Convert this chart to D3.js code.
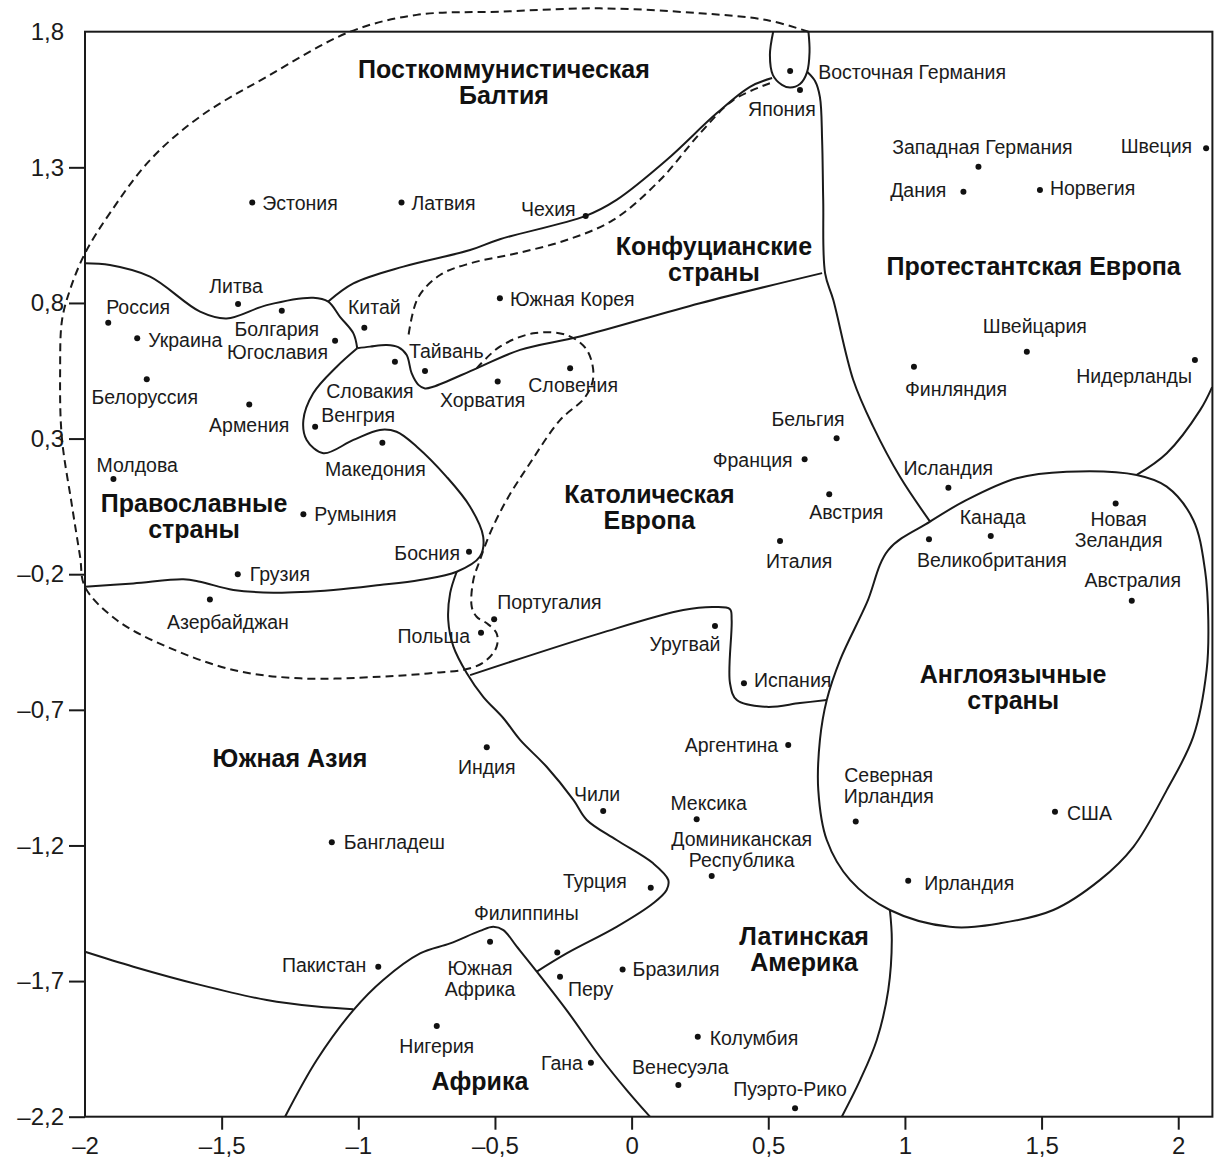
<!DOCTYPE html>
<html>
<head>
<meta charset="utf-8">
<title>Культурная карта мира</title>
<script src="https://d3js.org/d3.v7.min.js"></script>
<style>
  body { margin: 0; background: #fff; }
  svg { display: block; font-family: Arial, "Liberation Sans", Helvetica, sans-serif; }
  .frame { fill: none; stroke: #1a1a1a; stroke-width: 2; }
  .zone { fill: none; stroke: #1a1a1a; stroke-width: 2; }
  .zone.dashed { stroke-dasharray: 8 5; }
  .dot { fill: #111; }
  .country { font-size: 19.5px; fill: #1b1b1b; }
  .region { font-size: 25px; font-weight: bold; fill: #111; text-anchor: middle; }
  .axis text { font-size: 24px; fill: #1b1b1b; font-family: Arial, "Liberation Sans", sans-serif; }
  .axis path { display: none; }
  .axis line { stroke: #1a1a1a; stroke-width: 2; }
</style>
</head>
<body>
<svg id="chart"></svg>
<script>
// ---- data ----
const countries = [
  "Эстония", "Латвия", "Чехия", "Восточная Германия", "Япония",
  "Западная Германия", "Дания", "Норвегия", "Швеция", "Швейцария",
  "Финляндия", "Нидерланды", "Бельгия", "Франция", "Австрия",
  "Италия", "Исландия", "Канада", "Великобритания", "Новая Зеландия",
  "Австралия", "Россия", "Украина", "Литва", "Болгария",
  "Югославия", "Китай", "Белоруссия", "Армения", "Венгрия",
  "Словакия", "Тайвань", "Македония", "Молдова", "Румыния",
  "Грузия", "Азербайджан", "Хорватия", "Словения", "Южная Корея",
  "Босния", "Португалия", "Польша", "Уругвай", "Испания",
  "Аргентина", "Индия", "Чили", "Мексика", "Доминиканская Республика",
  "Турция", "Филиппины", "Южная Африка", "Перу", "Бразилия",
  "Нигерия", "Колумбия", "Гана", "Венесуэла", "Пуэрто-Рико",
  "Бангладеш", "Пакистан", "Северная Ирландия", "США", "Ирландия"
];
const survivalSelf = [
  -1.388, -0.842, -0.168, 0.580, 0.616,
  1.269, 1.214, 1.494, 2.102, 1.446,
  1.033, 2.061, 0.750, 0.633, 0.723,
  0.543, 1.159, 1.314, 1.088, 1.771,
  1.830, -1.915, -1.809, -1.440, -1.280,
  -1.085, -0.978, -1.774, -1.399, -1.158,
  -0.866, -0.756, -0.912, -1.896, -1.201,
  -1.441, -1.543, -0.490, -0.225, -0.482,
  -0.595, -0.503, -0.551, 0.305, 0.411,
  0.573, -0.530, -0.104, 0.238, 0.293,
  0.070, -0.272, -0.518, -0.262, -0.033,
  -0.713, 0.242, -0.149, 0.171, 0.598,
  -1.097, -0.927, 0.820, 1.549, 1.012
];
const tradSecular = [
  1.170, 1.170, 1.121, 1.655, 1.585,
  1.302, 1.210, 1.216, 1.370, 0.620,
  0.565, 0.590, 0.301, 0.224, 0.095,
  -0.078, 0.119, -0.059, -0.071, 0.061,
  -0.298, 0.727, 0.670, 0.796, 0.771,
  0.661, 0.709, 0.519, 0.426, 0.344,
  0.583, 0.549, 0.285, 0.151, 0.021,
  -0.200, -0.293, 0.510, 0.559, 0.817,
  -0.117, -0.366, -0.416, -0.391, -0.602,
  -0.830, -0.838, -1.073, -1.103, -1.313,
  -1.356, -1.595, -1.555, -1.684, -1.657,
  -1.866, -1.905, -2.001, -2.083, -2.169,
  -1.188, -1.647, -1.112, -1.076, -1.330
];

const xTicks = [-2, -1.5, -1, -0.5, 0, 0.5, 1, 1.5, 2];
const yTicks = [1.8, 1.3, 0.8, 0.3, -0.2, -0.7, -1.2, -1.7, -2.2];

// zone names and where they sit (data units, first baseline)
const zoneNames = [
  ["Посткоммунистическая", "Балтия"], ["Конфуцианские", "страны"],
  ["Протестантская Европа"], ["Православные", "страны"],
  ["Католическая", "Европа"], ["Англоязычные", "страны"],
  ["Южная Азия"], ["Латинская", "Америка"], ["Африка"]
];
const zoneX = [-0.467, 0.301, 1.471, -1.601, 0.065, 1.396, -1.250, 0.631, -0.555];
const zoneY = [1.629, 0.977, 0.903, 0.029, 0.062, -0.601, -0.911, -1.567, -2.102];

// zone borders, traced in data units
const orthodoxTop = [[-2, 0.946], [-1.909, 0.940], [-1.762, 0.897], [-1.579, 0.768], [-1.482, 0.743],
  [-1.335, 0.792], [-1.165, 0.819], [-1.110, 0.805], [-1.067, 0.749], [-1.018, 0.688], [-1.004, 0.633]];
const confucianLower = [[-1.004, 0.633], [-0.957, 0.639], [-0.896, 0.645], [-0.854, 0.637], [-0.823, 0.608],
  [-0.805, 0.541], [-0.780, 0.498], [-0.756, 0.485], [-0.726, 0.491], [-0.567, 0.559], [-0.408, 0.627],
  [-0.189, 0.676], [0.250, 0.799], [0.697, 0.910]];
const orthodoxEdge = [[-1.004, 0.633], [-1.079, 0.565], [-1.165, 0.467], [-1.201, 0.368], [-1.189, 0.295],
  [-1.128, 0.246], [-1.018, 0.295], [-0.921, 0.332], [-0.860, 0.325], [-0.786, 0.270], [-0.677, 0.159],
  [-0.591, 0.049], [-0.543, -0.062], [-0.555, -0.135], [-0.640, -0.191], [-0.774, -0.221], [-0.921, -0.240],
  [-1.091, -0.258], [-1.311, -0.268], [-1.457, -0.258], [-1.579, -0.228], [-1.640, -0.219], [-1.823, -0.234],
  [-2, -0.246]];
const southAsiaEdge = [[-0.640, -0.191], [-0.664, -0.270], [-0.671, -0.369], [-0.652, -0.467], [-0.603, -0.565],
  [-0.543, -0.652], [-0.469, -0.731], [-0.408, -0.811], [-0.311, -0.910], [-0.213, -1.032], [-0.164, -1.106],
  [-0.055, -1.180], [0.079, -1.266], [0.134, -1.327], [0.128, -1.364], [0.079, -1.413], [-0.055, -1.500],
  [-0.238, -1.598], [-0.347, -1.665]];
const latinTop = [[-0.591, -0.572], [-0.116, -0.418], [0.189, -0.332], [0.305, -0.321], [0.360, -0.329],
  [0.366, -0.369], [0.360, -0.602], [0.385, -0.664], [0.494, -0.689], [0.616, -0.675], [0.714, -0.664]];
const angloOutline = [[0.714, -0.664], [0.763, -0.516], [0.860, -0.307], [0.939, -0.111], [1.092, -0.006],
  [1.226, 0.074], [1.409, 0.154], [1.592, 0.178], [1.848, 0.166], [1.958, 0.123], [2.055, 0.000],
  [2.098, -0.185], [2.110, -0.369], [2.104, -0.553], [2.055, -0.799], [1.958, -0.996], [1.836, -1.205],
  [1.714, -1.327], [1.543, -1.438], [1.348, -1.487], [1.165, -1.500], [0.945, -1.438], [0.799, -1.327],
  [0.714, -1.180], [0.683, -0.996], [0.689, -0.811]];
const latinEast = [[0.945, -1.438], [0.952, -1.549], [0.939, -1.733], [0.897, -1.917], [0.836, -2.065], [0.769, -2.2]];
const protestantSouth = [[1.848, 0.166], [1.958, 0.246], [2.080, 0.405], [2.124, 0.490]];
const protestantWest = [[0.641, 1.653], [0.671, 1.618], [0.689, 1.559], [0.697, 1.401], [0.701, 1.180],
  [0.708, 0.909], [0.738, 0.811], [0.811, 0.516], [0.884, 0.344], [0.982, 0.159], [1.092, -0.006]];
const germanyOval = [[0.518, 1.8], [0.506, 1.714], [0.517, 1.640], [0.550, 1.604], [0.580, 1.594],
  [0.616, 1.607], [0.642, 1.651], [0.651, 1.725], [0.647, 1.8]];
const confucianUpper = [[-1.110, 0.805], [-1.018, 0.872], [-0.835, 0.934], [-0.591, 0.995], [-0.482, 1.035],
  [-0.168, 1.121], [-0.055, 1.180], [0.128, 1.327], [0.311, 1.499], [0.433, 1.597], [0.514, 1.629]];
const southAsiaAfrica = [[-2, -1.592], [-1.823, -1.647], [-1.579, -1.714], [-1.335, -1.770], [-1.152, -1.794], [-1.018, -1.804]];
const africaOutline = [[-1.268, -2.2], [-1.152, -1.991], [-1.018, -1.807], [-0.909, -1.696], [-0.774, -1.598],
  [-0.664, -1.561], [-0.555, -1.515], [-0.506, -1.500], [-0.469, -1.512], [-0.420, -1.573], [-0.347, -1.665],
  [-0.238, -1.807], [-0.116, -1.979], [-0.018, -2.102], [0.067, -2.2]];
const postCommunistDashed = [[-0.567, 0.559], [-0.482, 0.639], [-0.360, 0.688], [-0.238, 0.682], [-0.164, 0.627],
  [-0.140, 0.528], [-0.170, 0.453], [-0.262, 0.368], [-0.372, 0.209], [-0.457, 0.074], [-0.518, -0.049],
  [-0.555, -0.148], [-0.579, -0.221], [-0.585, -0.320], [-0.567, -0.357], [-0.530, -0.381], [-0.494, -0.418],
  [-0.494, -0.467], [-0.530, -0.516], [-0.591, -0.547], [-0.738, -0.565], [-0.921, -0.578], [-1.213, -0.584],
  [-1.457, -0.553], [-1.701, -0.467], [-1.884, -0.369], [-2, -0.247], [-2.018, -0.135], [-2.049, 0.061],
  [-2.085, 0.307], [-2.091, 0.553], [-2.084, 0.737], [-2.055, 0.848], [-2, 0.983], [-1.909, 1.131],
  [-1.762, 1.327], [-1.579, 1.487], [-1.335, 1.634], [-1.030, 1.8], [-0.786, 1.862], [-0.482, 1.874],
  [-0.116, 1.886], [0.250, 1.868], [0.494, 1.843], [0.647, 1.8]];
const confucianDashed = [[0.506, 1.610], [0.372, 1.548], [0.250, 1.425], [0.104, 1.253], [-0.067, 1.106],
  [-0.238, 1.032], [-0.420, 0.983], [-0.591, 0.946], [-0.701, 0.903], [-0.782, 0.818], [-0.817, 0.676]];

// label placement: anchor, dx, dy (pixels from the dot)
const labelLayout = {
  "Эстония": ["start", 10, 1], "Латвия": ["start", 10, 1], "Чехия": ["end", -10, -7],
  "Восточная Германия": ["start", 28, 1], "Япония": ["middle", -18, 19],
  "Западная Германия": ["middle", 4, -20], "Дания": ["end", -17, -2], "Норвегия": ["start", 10, -2],
  "Швеция": ["end", -14, -2], "Швейцария": ["middle", 8, -26], "Финляндия": ["start", -9, 22],
  "Нидерланды": ["end", -3, 16], "Бельгия": ["end", 8, -19], "Франция": ["end", -12, 1],
  "Австрия": ["start", -20, 18], "Италия": ["start", -14, 20], "Исландия": ["middle", 0, -19],
  "Канада": ["middle", 2, -19], "Великобритания": ["start", -12, 21], "Новая Зеландия": ["middle", 3, 16],
  "Австралия": ["middle", 1, -21], "Россия": ["start", -2, -16], "Украина": ["start", 11, 2],
  "Литва": ["middle", -2, -18], "Болгария": ["middle", -5, 18], "Югославия": ["end", -7, 12],
  "Китай": ["middle", 10, -20], "Белоруссия": ["middle", -2, 18], "Армения": ["middle", 0, 21],
  "Венгрия": ["start", 6, -11], "Словакия": ["middle", -25, 29], "Тайвань": ["start", -16, -20],
  "Македония": ["middle", -7, 27], "Молдова": ["start", -17, -14], "Румыния": ["start", 11, 0],
  "Грузия": ["start", 12, 0], "Азербайджан": ["middle", 18, 23], "Хорватия": ["middle", -15, 19],
  "Словения": ["middle", 3, 17], "Южная Корея": ["start", 10, 1], "Босния": ["end", -9, 1],
  "Португалия": ["start", 3, -17], "Польша": ["end", -11, 3], "Уругвай": ["middle", -30, 18],
  "Испания": ["start", 10, -3], "Аргентина": ["end", -10, 0], "Индия": ["middle", 0, 20],
  "Чили": ["middle", -6, -17], "Мексика": ["middle", 12, -16],
  "Доминиканская Республика": ["middle", 30, -37], "Турция": ["end", -24, -7],
  "Филиппины": ["middle", -31, -39], "Южная Африка": ["middle", -10, 26], "Перу": ["start", 8, 12],
  "Бразилия": ["start", 10, 0], "Нигерия": ["middle", 0, 20], "Колумбия": ["start", 12, 1],
  "Гана": ["end", -8, 0], "Венесуэла": ["middle", 2, -18], "Пуэрто-Рико": ["middle", -5, -19],
  "Бангладеш": ["start", 12, 0], "Пакистан": ["end", -12, -2],
  "Северная Ирландия": ["middle", 33, -46], "США": ["start", 12, 1], "Ирландия": ["start", 16, 2]
};
const twoLineNames = ["Новая Зеландия", "Южная Африка", "Доминиканская Республика", "Северная Ирландия"];

// ---- drawing ----
const width = 1215, height = 1160;
const svg = d3.select("#chart").attr("width", width).attr("height", height);

const x = d3.scaleLinear().domain([-2, 2.125]).range([85, 1212.4]);
const y = d3.scaleLinear().domain([-2.2, 1.8]).range([1116.7, 31.7]);

const fmt = d => (d < 0 ? "\u2013" : "") + String(Math.abs(d)).replace(".", ",");

// axes
const yAxis = svg.append("g").attr("class", "axis")
  .attr("transform", `translate(${x(-2)},0)`)
  .call(d3.axisLeft(y).tickValues(yTicks).tickFormat(fmt).tickSize(16).tickPadding(5));
yAxis.selectAll(".tick").filter(d => d === 1.8).select("line").remove();

const xAxis = svg.append("g").attr("class", "axis")
  .attr("transform", `translate(0,${y(-2.2)})`)
  .call(d3.axisBottom(x).tickValues(xTicks).tickFormat(fmt).tickSize(13).tickPadding(7));
xAxis.selectAll(".tick").filter(d => d === -2).select("line").remove();

// frame
svg.append("rect").attr("class", "frame")
  .attr("x", x(-2)).attr("y", y(1.8))
  .attr("width", x(2.125) - x(-2)).attr("height", y(-2.2) - y(1.8));

// zone borders
const line = d3.line().x(d => x(d[0])).y(d => y(d[1])).curve(d3.curveCatmullRom.alpha(0.5));
const closedLine = d3.line().x(d => x(d[0])).y(d => y(d[1])).curve(d3.curveCatmullRomClosed.alpha(0.5));

const solidBorders = [orthodoxTop, confucianLower, orthodoxEdge, southAsiaEdge, latinTop, latinEast,
  protestantSouth, protestantWest, germanyOval, confucianUpper, southAsiaAfrica, africaOutline];
svg.append("g").selectAll("path").data(solidBorders).join("path")
  .attr("class", "zone").attr("d", line);
svg.append("path").attr("class", "zone").attr("d", closedLine(angloOutline));

svg.append("g").selectAll("path").data([postCommunistDashed, confucianDashed]).join("path")
  .attr("class", "zone dashed").attr("d", line);

// zone titles
const zones = svg.append("g");
zoneNames.forEach((lines, i) => {
  const t = zones.append("text").attr("class", "region")
    .attr("x", x(zoneX[i])).attr("y", y(zoneY[i]));
  lines.forEach((s, j) => t.append("tspan").attr("x", x(zoneX[i])).attr("dy", j ? 26 : 0).text(s));
});

// countries
const points = countries.map((name, i) => ({ name, sx: survivalSelf[i], ty: tradSecular[i] }));

svg.append("g").selectAll("circle").data(points).join("circle")
  .attr("class", "dot")
  .attr("cx", d => x(d.sx)).attr("cy", d => y(d.ty)).attr("r", 3);

const labels = svg.append("g").selectAll("text").data(points).join("text")
  .attr("class", "country")
  .attr("text-anchor", d => labelLayout[d.name][0])
  .attr("x", d => x(d.sx) + labelLayout[d.name][1])
  .attr("y", d => y(d.ty) + labelLayout[d.name][2]);

labels.each(function(d) {
  const t = d3.select(this);
  const parts = twoLineNames.includes(d.name) ? d.name.split(" ") : [d.name];
  parts.forEach((s, j) => t.append("tspan")
    .attr("x", x(d.sx) + labelLayout[d.name][1])
    .attr("dy", j ? "1.08em" : "0.35em")
    .text(s));
});
</script>
</body>
</html>
